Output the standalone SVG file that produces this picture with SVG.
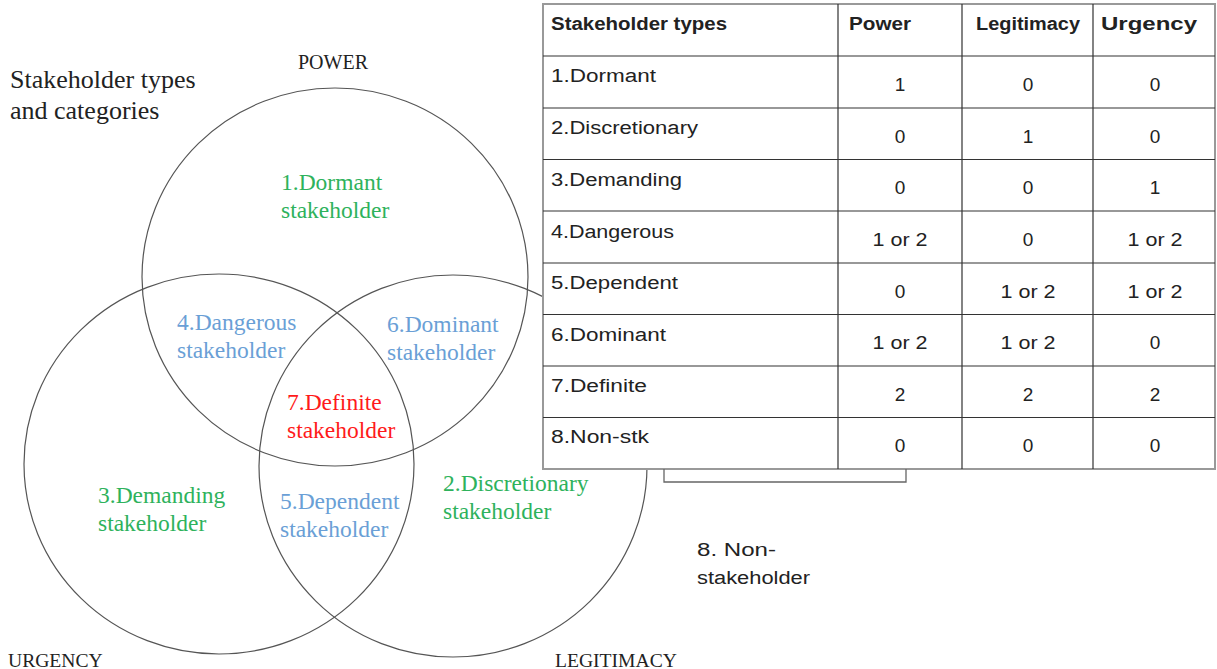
<svg xmlns="http://www.w3.org/2000/svg" width="1217" height="669" viewBox="0 0 1217 669">
  <style>
    .ring { fill: none; stroke: #555; stroke-width: 1.2; }
    .serif { font-family: "Liberation Serif", "Times New Roman", serif; }
    .sans { font-family: "Liberation Sans", Arial, sans-serif; font-size: 18px; fill: #222; }
    .hdr { font-weight: bold; }
    .num { text-anchor: middle; font-size: 19px; }
    .grid { stroke: #333; stroke-width: 1.2; fill: none; }
    .frame { stroke: #999; stroke-width: 2; fill: #fff; }
    .brace { stroke: #666; stroke-width: 1.3; fill: none; }
  </style>

  <!-- background -->
  <rect x="0" y="0" width="1217" height="669" fill="#fff"/>

  <!-- title -->
  <g id="title" class="serif" fill="#222" font-size="26">
    <text x="10" y="88">Stakeholder types</text>
    <text x="10" y="119">and categories</text>
  </g>

  <!-- attribute circles -->
  <g id="connectors">
    <ellipse id="ring-power" class="ring" cx="335" cy="277" rx="193" ry="189"/>
    <ellipse id="ring-urgency" class="ring" cx="219" cy="464" rx="195" ry="190"/>
    <ellipse id="ring-legitimacy" class="ring" cx="453" cy="466" rx="194" ry="191"/>
  </g>

  <!-- axis labels -->
  <g id="axis-power" class="serif" font-size="20" fill="#222"><text x="298" y="69">POWER</text></g>
  <g id="axis-urgency" class="serif" font-size="19.6" fill="#222"><text x="8" y="667">URGENCY</text></g>
  <g id="axis-legitimacy" class="serif" font-size="19.6" fill="#222"><text x="555" y="667">LEGITIMACY</text></g>

  <!-- region labels -->
  <g id="node-dormant" class="serif" font-size="23.5" fill="#2eb25c">
    <text x="281" y="190">1.Dormant</text>
    <text x="281" y="218">stakeholder</text>
  </g>
  <g id="node-dangerous" class="serif" font-size="23.5" fill="#6a9fd6">
    <text x="177" y="330">4.Dangerous</text>
    <text x="177" y="358">stakeholder</text>
  </g>
  <g id="node-dominant" class="serif" font-size="23.5" fill="#6a9fd6">
    <text x="387" y="332">6.Dominant</text>
    <text x="387" y="360">stakeholder</text>
  </g>
  <g id="node-definite" class="serif" font-size="23.5" fill="#ff1a1a">
    <text x="287" y="410">7.Definite</text>
    <text x="287" y="438">stakeholder</text>
  </g>
  <g id="node-demanding" class="serif" font-size="23.5" fill="#2eb25c">
    <text x="98" y="503">3.Demanding</text>
    <text x="98" y="531">stakeholder</text>
  </g>
  <g id="node-dependent" class="serif" font-size="23.5" fill="#6a9fd6">
    <text x="280" y="509">5.Dependent</text>
    <text x="280" y="537">stakeholder</text>
  </g>
  <g id="node-discretionary" class="serif" font-size="23.5" fill="#2eb25c">
    <text x="443" y="491">2.Discretionary</text>
    <text x="443" y="519">stakeholder</text>
  </g>

  <!-- attribute table -->
  <g id="table">
    <rect class="frame" x="543" y="4" width="672" height="465"/>
    <g class="grid">
      <path d="M838,4 V469 M962,4 V469 M1093,4 V469"/>
      <path d="M543,56 H1215 M543,108 H1215 M543,159.5 H1215 M543,211 H1215 M543,263 H1215 M543,314.5 H1215 M543,366 H1215 M543,417.5 H1215"/>
    </g>
    <g class="sans hdr">
      <text x="551" y="30" textLength="176" lengthAdjust="spacingAndGlyphs">Stakeholder types</text>
      <text x="849" y="30" textLength="62" lengthAdjust="spacingAndGlyphs">Power</text>
      <text x="976" y="30" textLength="104" lengthAdjust="spacingAndGlyphs">Legitimacy</text>
      <text x="1101" y="30" textLength="96" lengthAdjust="spacingAndGlyphs">Urgency</text>
    </g>
    <g class="sans">
      <text x="551" y="82" textLength="105" lengthAdjust="spacingAndGlyphs">1.Dormant</text>
      <text x="551" y="134" textLength="147" lengthAdjust="spacingAndGlyphs">2.Discretionary</text>
      <text x="551" y="186" textLength="131" lengthAdjust="spacingAndGlyphs">3.Demanding</text>
      <text x="551" y="238" textLength="123" lengthAdjust="spacingAndGlyphs">4.Dangerous</text>
      <text x="551" y="289" textLength="127" lengthAdjust="spacingAndGlyphs">5.Dependent</text>
      <text x="551" y="341" textLength="115" lengthAdjust="spacingAndGlyphs">6.Dominant</text>
      <text x="551" y="392" textLength="96" lengthAdjust="spacingAndGlyphs">7.Definite</text>
      <text x="551" y="443" textLength="98" lengthAdjust="spacingAndGlyphs">8.Non-stk</text>
    </g>
    <g class="sans num">
      <text x="900" y="91">1</text><text x="1028" y="91">0</text><text x="1155" y="91">0</text>
      <text x="900" y="143">0</text><text x="1028" y="143">1</text><text x="1155" y="143">0</text>
      <text x="900" y="194">0</text><text x="1028" y="194">0</text><text x="1155" y="194">1</text>
      <text x="900" y="246" textLength="55" lengthAdjust="spacingAndGlyphs">1 or 2</text><text x="1028" y="246">0</text><text x="1155" y="246" textLength="55" lengthAdjust="spacingAndGlyphs">1 or 2</text>
      <text x="900" y="298">0</text><text x="1028" y="298" textLength="55" lengthAdjust="spacingAndGlyphs">1 or 2</text><text x="1155" y="298" textLength="55" lengthAdjust="spacingAndGlyphs">1 or 2</text>
      <text x="900" y="349" textLength="55" lengthAdjust="spacingAndGlyphs">1 or 2</text><text x="1028" y="349" textLength="55" lengthAdjust="spacingAndGlyphs">1 or 2</text><text x="1155" y="349">0</text>
      <text x="900" y="401">2</text><text x="1028" y="401">2</text><text x="1155" y="401">2</text>
      <text x="900" y="452">0</text><text x="1028" y="452">0</text><text x="1155" y="452">0</text>
    </g>
  </g>

  <!-- non-stakeholder bracket and note -->
  <g id="node-nonstakeholder">
    <path class="brace" d="M664,469 V482 H906 V469"/>
    <g class="sans" fill="#444">
      <text x="697" y="556" textLength="79" lengthAdjust="spacingAndGlyphs">8. Non-</text>
      <text x="697" y="584" textLength="113" lengthAdjust="spacingAndGlyphs">stakeholder</text>
    </g>
  </g>
</svg>
